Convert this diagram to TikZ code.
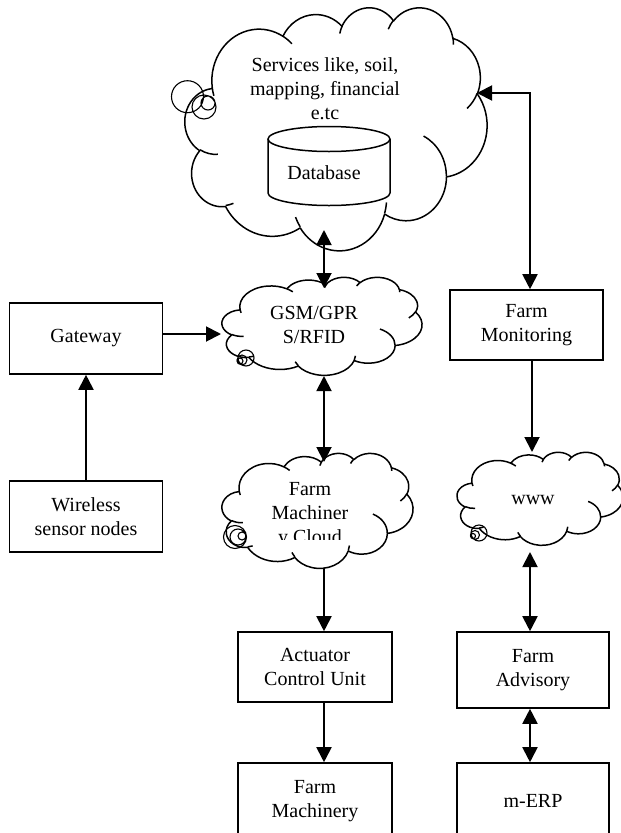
\documentclass[tikz,border=0pt]{standalone}
\usepackage{fontspec}
\setmainfont{Liberation Serif}
\usetikzlibrary{arrows.meta}

% visual (OOXML) arc angles -> parametric angles
\newcommand\cldprep[5]{%
  \pgfmathsetmacro\cldtA{atan2(sin(#4)*#2, cos(#4)*#3)}%
  \pgfmathsetmacro\cldtB{atan2(sin(#4+#5)*#2, cos(#4+#5)*#3)}%
  \pgfmathsetmacro\cldtD{\cldtB-\cldtA}%
  \pgfmathsetmacro\cldtD{\cldtD-360*round((\cldtD-(#5))/360)}%
  \expandafter\xdef\csname cldS#1\endcsname{\cldtA}%
  \expandafter\xdef\csname cldD#1\endcsname{\cldtD}%
}
\cldprep{a}{67.53}{91.90}{-190.48748}{123.78053}
\cldprep{b}{53.33}{72.67}{-144.10238}{89.94523}
\cldprep{c}{43.65}{59.45}{-145.80792}{99.72302}
\cldprep{d}{48.57}{65.95}{-130.98607}{117.24173}
\cldprep{e}{53.33}{72.73}{-78.70888}{109.02692}
\cldprep{f}{67.75}{92.20}{-46.26725}{130.269}
\cldprep{g}{57.85}{78.67}{0.62502}{114.03333}
\cldprep{h}{67.52}{92.15}{22.4516}{115.17255}
\cldprep{i}{77.20}{105.43}{66.24263}{75.71102}
\cldprep{j}{43.60}{59.18}{-274.94208}{146.73557}
\cldprep{k}{43.45}{59.45}{-246.8285}{152.51885}
\cldprep{l}{43.45}{59.45}{86.742}{26.4295}
\cldprep{m}{43.60}{59.18}{73.6105}{11.4475}
\cldprep{n}{67.52}{92.15}{137.6242}{14.0811}
\cldprep{o}{67.52}{92.15}{6.4533}{15.9984}
\cldprep{p}{57.85}{78.67}{-70.2924}{70.9174}
\cldprep{q}{53.33}{72.73}{30.3180}{27.7515}
\cldprep{r}{48.57}{65.95}{-13.7443}{14.8589}
\cldprep{s}{48.57}{65.95}{-149.1815}{18.1954}
\cldprep{t}{43.65}{59.45}{-163.4943}{17.6864}
\cldprep{u}{67.53}{91.90}{-66.7070}{12.3194}
\cldprep{v}{67.53}{91.90}{157.6544}{11.8582}

\newcommand\fs{\fontsize{20}{24}\selectfont}

\newcommand\wordcloud[4]{%
  \begin{scope}[shift={(#1,#2)}, xscale=#3/432, yscale=#4/432]
    \draw[cloudline] (39.00,143.70)
      arc[start angle=\cldSa, delta angle=\cldDa, x radius=67.53, y radius=91.90]
      arc[start angle=\cldSb, delta angle=\cldDb, x radius=53.33, y radius=72.67]
      arc[start angle=\cldSc, delta angle=\cldDc, x radius=43.65, y radius=59.45]
      arc[start angle=\cldSd, delta angle=\cldDd, x radius=48.57, y radius=65.95]
      arc[start angle=\cldSe, delta angle=\cldDe, x radius=53.33, y radius=72.73]
      arc[start angle=\cldSf, delta angle=\cldDf, x radius=67.75, y radius=92.20]
      arc[start angle=\cldSg, delta angle=\cldDg, x radius=57.85, y radius=78.67]
      arc[start angle=\cldSh, delta angle=\cldDh, x radius=67.52, y radius=92.15]
      arc[start angle=\cldSi, delta angle=\cldDi, x radius=77.20, y radius=105.43]
      arc[start angle=\cldSj, delta angle=\cldDj, x radius=43.60, y radius=59.18]
      arc[start angle=\cldSk, delta angle=\cldDk, x radius=43.45, y radius=59.45]
      -- cycle;
    \draw[cloudline]
      (46.93,261.77) arc[start angle=\cldSl, delta angle=\cldDl, x radius=43.45, y radius=59.45]
      (69.28,348.99) arc[start angle=\cldSm, delta angle=\cldDm, x radius=43.60, y radius=59.18]
      (164.78,390.90) arc[start angle=\cldSn, delta angle=\cldDn, x radius=67.52, y radius=92.15]
      (288.27,347.51) arc[start angle=\cldSo, delta angle=\cldDo, x radius=67.52, y radius=92.15]
      (341.29,229.54) arc[start angle=\cldSp, delta angle=\cldDp, x radius=57.85, y radius=78.67]
      (417.98,153.54) arc[start angle=\cldSq, delta angle=\cldDq, x radius=53.33, y radius=72.73]
      (383.24,54.26) arc[start angle=\cldSr, delta angle=\cldDr, x radius=48.57, y radius=65.95]
      (290.78,39.52) arc[start angle=\cldSs, delta angle=\cldDs, x radius=48.57, y radius=65.95]
      (221.41,47.20) arc[start angle=\cldSt, delta angle=\cldDt, x radius=43.65, y radius=59.45]
      (140.00,51.92) arc[start angle=\cldSu, delta angle=\cldDu, x radius=67.53, y radius=91.90]
      (41.27,157.89) arc[start angle=\cldSv, delta angle=\cldDv, x radius=67.53, y radius=91.90];
  \end{scope}}

\tikzset{
  box/.style={draw, line width=1.6pt, minimum width=153pt, minimum height=71pt,
    align=center, font=\fs, inner sep=2pt},
  txt/.style={align=center, font=\fs, inner sep=0pt},
  cloudline/.style={line width=1.5pt, line join=round},
  tailline/.style={line width=1.1pt},
  dbline/.style={line width=1.5pt},
  tip/.style={},
  arr/.style={line width=1.9pt, -{Triangle[length=15pt,width=15pt]}},
  darr/.style={line width=1.9pt, {Triangle[length=15pt,width=15pt]}-{Triangle[length=15pt,width=15pt]}},
}

\begin{document}
\begin{tikzpicture}[x=1pt, y=-1pt]
\useasboundingbox (0,0) rectangle (621,833);
\clip (0,0) rectangle (621,833);

% ---- clouds
\wordcloud{185}{7}{302}{243}
\wordcloud{222}{277}{200}{98}
\wordcloud{222}{453}{191}{115}
\wordcloud{457}{452}{166}{93}

% ---- callout tails
\draw[tailline] (187.5,96.7) circle[radius=16] (204,107) circle[radius=12] (208,103) circle[radius=7];
\draw[tailline] (246,358) circle[radius=8] (242,360) circle[radius=5] (240,361) circle[radius=3];
\draw[tailline] (235,537) circle[radius=11.5] (238,537) circle[radius=8] (242,536) circle[radius=4];
\draw[tailline] (479,533) circle[radius=8] (475,535) circle[radius=4.5] (473,536) circle[radius=2.5];

% ---- cloud texts
\node[txt] (topc) at (325,89) {Services like, soil,\\mapping, financial\\e.tc};
\draw[dbline] (268,139) -- (268,193) arc[start angle=180, end angle=0, x radius=61, y radius=12.5] -- (390,139);
\draw[dbline] (329,139) ellipse[x radius=61, y radius=12.5];
\node[txt] (db) at (324,173) {Database};
\node[txt] (gsm) at (314,325) {GSM/GPR\\S/RFID};
\begin{scope}
  \clip (200,440) rectangle (440,539);
  \node[txt] (fmc) at (310,515) {Farm\\Machiner\\y Cloud};
\end{scope}
\node[txt] (www) at (533,500) {www};

% ---- boxes
\node[box] (gateway) at (86,338.5) {Gateway};
\node[box] (wireless) at (86,516.5) {Wireless\\sensor nodes};
\node[box, minimum width=154pt, minimum height=70pt] (actuator) at (315,667) {Actuator\\Control Unit};
\node[box, minimum width=154pt, minimum height=76pt] (machinery) at (315,801) {Farm\\Machinery};
\node[box, minimum height=70pt] (monitoring) at (526.5,325) {Farm\\Monitoring};
\node[box, minimum width=152pt, minimum height=76pt] (advisory) at (533,670) {Farm\\Advisory};
\node[box, minimum width=152pt, minimum height=76pt] (merp) at (533,801) {m-ERP};

% ---- connectors
\coordinate (topOut) at (324,230);
\coordinate (gsmIn) at (324,288);
\draw[darr] (topOut) -- (gsmIn);
\coordinate (gsmLeft) at (221,334);
\draw[arr] (gateway.east |- gsmLeft) -- (gsmLeft);
\draw[arr] (wireless.north) -- (gateway.south);
\coordinate (gsmOut) at (324,376);
\coordinate (fmIn) at (324,462);
\draw[darr] (gsmOut) -- (fmIn);
\coordinate (fmOut) at (324,568);
\draw[arr] (fmOut) -- (fmOut |- actuator.north);
\draw[arr] (actuator.south -| fmOut) -- (machinery.north -| fmOut);
\coordinate (topR) at (477,93);
\coordinate (rcol) at (530,0);
\draw[darr] (topR) -| (monitoring.north -| rcol);
\coordinate (wwwIn) at (532,452);
\draw[arr] (monitoring.south -| wwwIn) -- (wwwIn);
\coordinate (wwwOut) at (530,552);
\draw[darr] (wwwOut) -- (wwwOut |- advisory.north);
\draw[darr] (advisory.south -| wwwOut) -- (merp.north -| wwwOut);
\end{tikzpicture}
\end{document}
